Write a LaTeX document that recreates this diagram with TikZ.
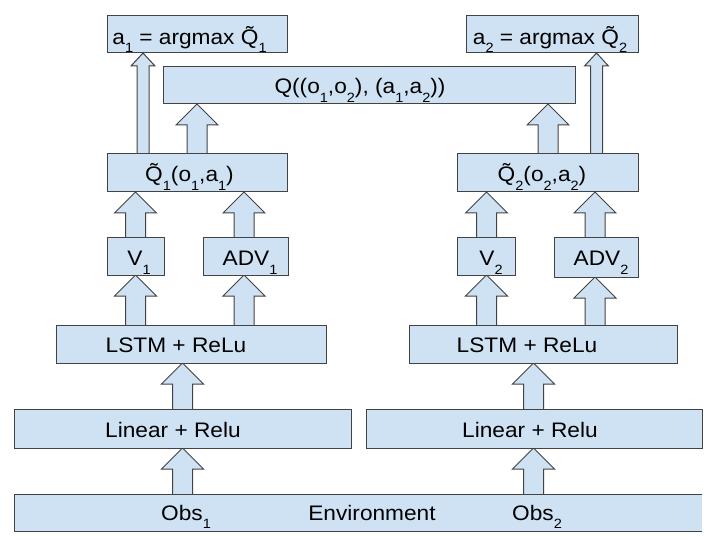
\documentclass[tikz,border=0pt]{standalone}
\usepackage{fontspec}
\setmainfont{Liberation Sans}[FakeStretch=1.08]
\usetikzlibrary{calc,backgrounds}
\definecolor{boxfill}{HTML}{CFE2F3}
\definecolor{boxline}{HTML}{434343}
\newcommand\lowsub[1]{\raisebox{-8.5bp}{\fontsize{13.5}{14}\selectfont #1}}
\newcommand\blockarrow[6]{%
  \draw[arrowline] let \p1=(#2.north), \p2=(#3.south) in
   ({(#1-#4)*1bp},\y1) -- ({(#1-#4)*1bp},{\y2-#6bp}) -- ({(#1-#5)*1bp},{\y2-#6bp})
   -- ({#1*1bp},\y2) -- ({(#1+#5)*1bp},{\y2-#6bp}) -- ({(#1+#4)*1bp},{\y2-#6bp})
   -- ({(#1+#4)*1bp},\y1);}
\newcommand\fatarrow[3]{\blockarrow{#1}{#2}{#3}{10}{21}{21}}
\newcommand\thinarrow[3]{\blockarrow{#1}{#2}{#3}{6}{12}{13}}
\tikzset{
  box/.style={draw=boxline, fill=boxfill, line width=1bp, inner sep=0pt, outer sep=0pt},
  arrowline/.style={draw=boxline, fill=boxfill, line width=1bp, line join=miter},
  lbl/.style={anchor=base, inner sep=0pt, font=\fontsize{21.08}{25}\selectfont, text=black}
}
\begin{document}
\begin{tikzpicture}[x=1bp, y=-1bp]
\useasboundingbox (0,0) rectangle (720,542);
% boxes
\node[box, minimum width=180bp, minimum height=37bp] (a1box) at (197,34.5) {};
\node[box, minimum width=172bp, minimum height=37bp] (a2box) at (552,34.5) {};
\node[box, minimum width=412bp, minimum height=37bp] (qbox) at (369,85.5) {};
\node[box, minimum width=180bp, minimum height=38bp] (qt1) at (197,173) {};
\node[box, minimum width=181bp, minimum height=38bp] (qt2) at (547.5,173) {};
\node[box, minimum width=57bp, minimum height=37bp] (v1) at (135.5,256.5) {};
\node[box, minimum width=85bp, minimum height=37bp] (adv1) at (245.5,256.5) {};
\node[box, minimum width=58bp, minimum height=37bp] (v2) at (486,256.5) {};
\node[box, minimum width=84bp, minimum height=39bp] (adv2) at (596,257.5) {};
\node[box, minimum width=269bp, minimum height=38bp] (lstm1) at (191.5,344) {};
\node[box, minimum width=268bp, minimum height=38bp] (lstm2) at (543,344) {};
\node[box, minimum width=336bp, minimum height=39bp] (lin1) at (183,428.5) {};
\node[box, minimum width=336bp, minimum height=39bp] (lin2) at (534,428.5) {};
\node[box, draw=none, minimum width=687bp, minimum height=37bp] (env) at (358.5,512.5) {};
\draw[boxline, line width=1bp] (env.north east) -- (env.north west) -- (env.south west) -- (env.south east);
% labels
\node[lbl] (ta1) at (189.5,44.5) {a\lowsub{1} = argmax Q̃\lowsub{1}};
\node[lbl] (ta2) at (550,44.5) {a\lowsub{2} = argmax Q̃\lowsub{2}};
\node[lbl] (tq) at (360,94) {Q((o\lowsub{1},o\lowsub{2}), (a\lowsub{1},a\lowsub{2}))};
\node[lbl] (tqt1) at (189.5,182) {Q̃\lowsub{1}(o\lowsub{1},a\lowsub{1})};
\node[lbl] (tqt2) at (542,182) {Q̃\lowsub{2}(o\lowsub{2},a\lowsub{2})};
\node[lbl] (tv1) at (139,266) {V\lowsub{1}};
\node[lbl] (tadv1) at (250,266) {ADV\lowsub{1}};
\node[lbl] (tv2) at (491,266) {V\lowsub{2}};
\node[lbl] (tadv2) at (601,266) {ADV\lowsub{2}};
\node[lbl] (tlstm1) at (176,352) {LSTM + ReLu};
\node[lbl] (tlstm2) at (527,352) {LSTM + ReLu};
\node[lbl] (tlin1) at (173,437) {Linear + Relu};
\node[lbl] (tlin2) at (530,437) {Linear + Relu};
\node[lbl] (tobs1) at (186,520) {Obs\lowsub{1}};
\node[lbl] (tenv) at (372,520) {Environment};
\node[lbl] (tobs2) at (537,520) {Obs\lowsub{2}};
% arrows
\begin{scope}[on background layer]
\thinarrow{143}{qt1}{a1box}
\thinarrow{596.5}{qt2}{a2box}
\fatarrow{197}{qt1}{qbox}
\fatarrow{548}{qt2}{qbox}
\fatarrow{135.5}{v1}{qt1}
\fatarrow{244}{adv1}{qt1}
\fatarrow{486.5}{v2}{qt2}
\fatarrow{595}{adv2}{qt2}
\fatarrow{135.5}{lstm1}{v1}
\fatarrow{244}{lstm1}{adv1}
\fatarrow{486.5}{lstm2}{v2}
\fatarrow{595}{lstm2}{adv2}
\fatarrow{182.5}{lin1}{lstm1}
\fatarrow{533.5}{lin2}{lstm2}
\fatarrow{182.5}{env}{lin1}
\fatarrow{533.5}{env}{lin2}
\end{scope}
\end{tikzpicture}
\end{document}
